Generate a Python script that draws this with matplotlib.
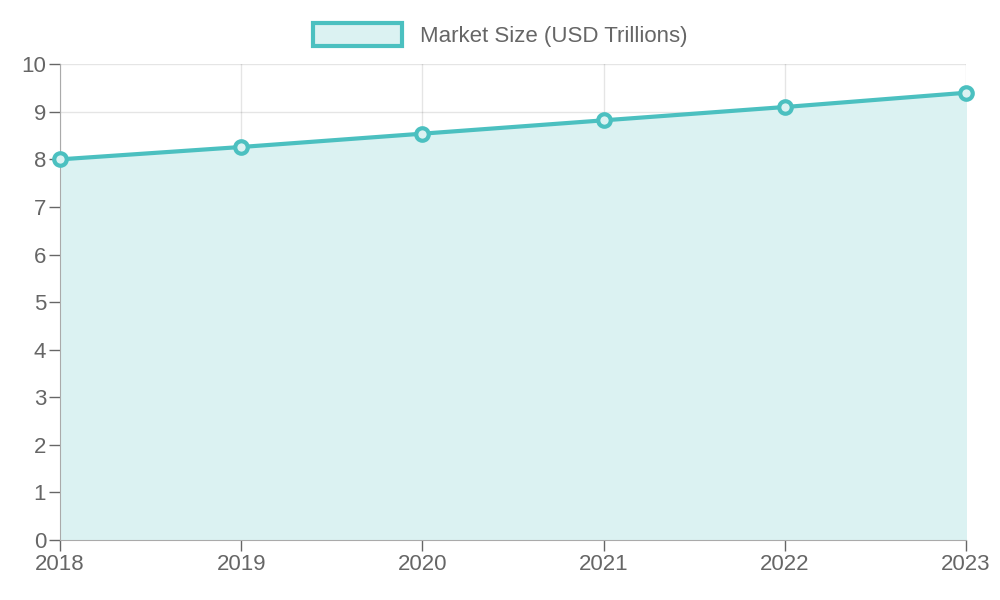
import matplotlib
matplotlib.use("Agg")
import matplotlib.pyplot as plt
from matplotlib.patches import Patch

years = ["2018", "2019", "2020", "2021", "2022", "2023"]
market_size = [8.0, 8.26, 8.54, 8.82, 9.1, 9.4]
label = "Market Size (USD Trillions)"

plt.rcParams['font.family'] = ['Liberation Sans', 'DejaVu Sans']
fig = plt.figure(figsize=(10, 6), dpi=100)
ax = fig.add_axes([0.06, 0.10, 0.906, 0.793])
x = list(range(len(years)))
line_c = "#4bc0c0"
fill_c = "#dbf2f2"
ax.fill_between(x, market_size, 0, color=fill_c, zorder=1)
ax.plot(x, market_size, color=line_c, lw=3, zorder=3)
ax.plot(x, market_size, 'o', ms=9, mfc=fill_c, mec=line_c, mew=3, zorder=4, clip_on=False)
ax.set_xlim(0, len(years) - 1)
ax.set_ylim(0, 10)
ax.set_xticks(x)
ax.set_xticklabels(years)
ax.set_yticks(range(11))
ax.grid(True, color="#000000", alpha=0.1, lw=1)
ax.tick_params(colors="#666666", labelsize=16, length=8, width=1, labelcolor="#666666")
ax.tick_params(axis='y', pad=2)
ax.tick_params(axis='x', pad=2)
for s in ["top", "right"]:
    ax.spines[s].set_visible(False)
for s in ["left", "bottom"]:
    ax.spines[s].set_color("#aaaaaa")
ax.set_axisbelow(True)
h = Patch(facecolor=fill_c, edgecolor=line_c, lw=3)
fig.legend([h], [label], loc="upper center", bbox_to_anchor=(0.5, 0.995), frameon=False,
           fontsize=16, labelcolor="#666666", handlelength=4, handleheight=1.2)
fig.savefig("out.png")
